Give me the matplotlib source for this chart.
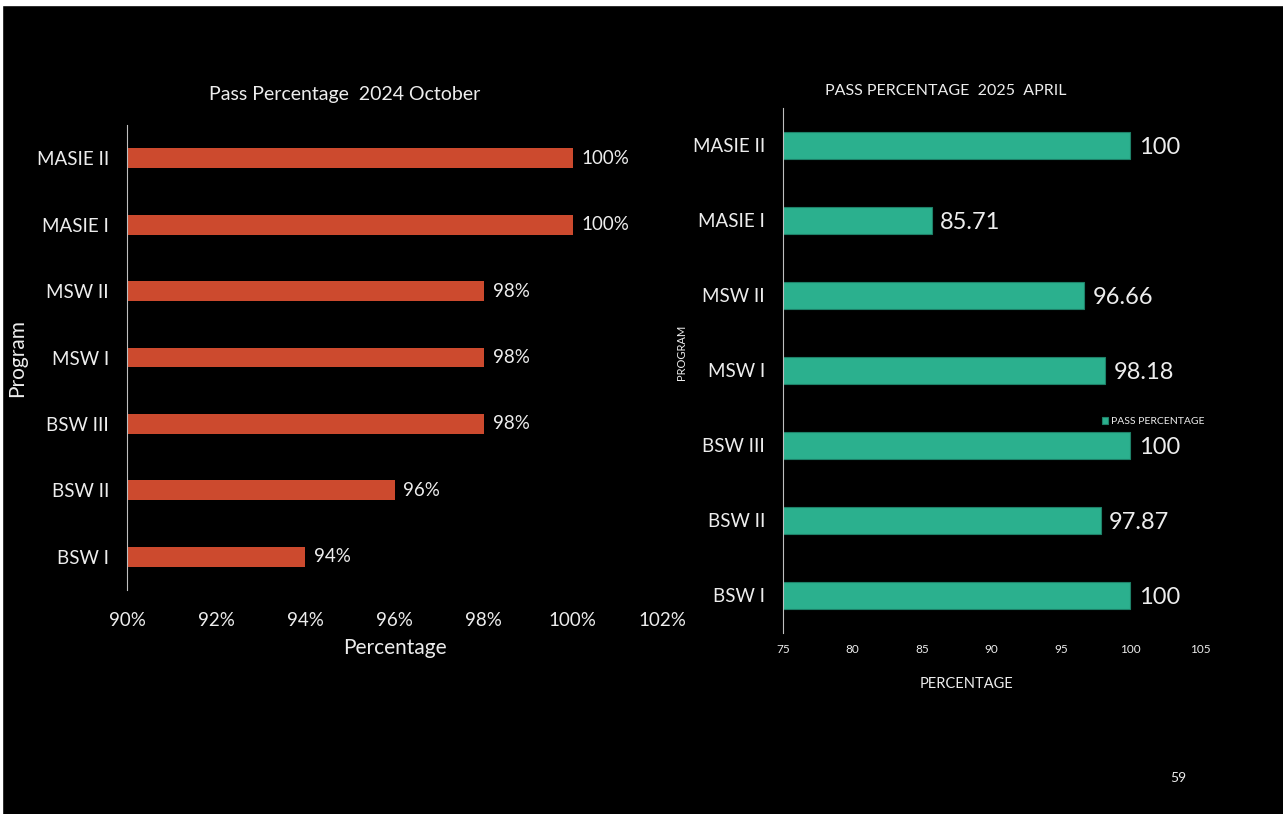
import numpy as np
import matplotlib.pyplot as plt
from matplotlib.patches import Rectangle
from matplotlib.ticker import FuncFormatter

plt.rcParams['font.family'] = ['Lato', 'DejaVu Sans']

# ---- data ----
programs = ['BSW I', 'BSW II', 'BSW III', 'MSW I', 'MSW II', 'MASIE I', 'MASIE II']
oct_2024 = [94, 96, 98, 98, 98, 100, 100]
apr_2025 = [100, 97.87, 100, 98.18, 96.66, 85.71, 100]
apr_labels = ['100', '97.87', '100', '98.18', '96.66', '85.71', '100']

red = '#CC4A2E'
green = '#2BB08E'
txt = '#EDEDED'

fig = plt.figure(figsize=(12.83, 8.14), dpi=100, facecolor='black')
# thin white margin top/left like the slide capture
fig.patches.append(Rectangle((0, 1 - 5 / 814), 1, 5 / 814, transform=fig.transFigure,
                             color='white', zorder=0))
fig.patches.append(Rectangle((0, 0), 2 / 1283, 1, transform=fig.transFigure,
                             color='white', zorder=0))

y = np.arange(len(programs))

# ---------- left chart ----------
ax1 = fig.add_axes([0.099, 0.2752, 0.417, 0.5712])
ax1.set_facecolor('black')
ax1.barh(y, oct_2024, height=0.3, color=red)
ax1.set_xlim(90, 102)
ax1.set_ylim(-0.5, 6.5)
ax1.set_xticks(np.arange(90, 103, 2))
ax1.xaxis.set_major_formatter(FuncFormatter(lambda v, p: '%d%%' % v))
ax1.set_yticks(y)
ax1.set_yticklabels(programs)
ax1.tick_params(length=0, colors=txt, labelsize=13.5)
ax1.tick_params(axis='x', pad=16)
ax1.tick_params(axis='y', pad=13)
for s in ['top', 'right', 'bottom']:
    ax1.spines[s].set_visible(False)
ax1.spines['left'].set_color('#BFBFBF')
for yi, v in zip(y, oct_2024):
    ax1.text(v + 0.2, yi, '%d%%' % v, color=txt, fontsize=13.5, va='center', ha='left')
ax1.set_xlabel('Percentage', color=txt, fontsize=15, labelpad=6)
ax1.set_ylabel('Program', color=txt, fontsize=15)
ax1.yaxis.set_label_coords(-0.187, 0.50)
ax1.set_title('Pass Percentage  2024 October', color=txt, fontsize=14, pad=18, x=0.407)

# ---------- right chart ----------
ax2 = fig.add_axes([0.6103, 0.2224, 0.325, 0.645])
ax2.set_facecolor('black')
ax2.barh(y, apr_2025, height=0.35, color=green, edgecolor='#1E8068', linewidth=0.8,
         label='PASS PERCENTAGE')
ax2.set_xlim(75, 105)
ax2.set_ylim(-0.5, 6.5)
ax2.set_xticks(np.arange(75, 106, 5))
ax2.set_yticks(y)
ax2.set_yticklabels(programs)
ax2.tick_params(length=0, colors=txt)
ax2.tick_params(axis='x', labelsize=8.5, pad=8)
ax2.tick_params(axis='y', labelsize=13.5, pad=13)
for s in ['top', 'right', 'bottom']:
    ax2.spines[s].set_visible(False)
ax2.spines['left'].set_color('#BFBFBF')
for yi, v, lab in zip(y, apr_2025, apr_labels):
    ax2.text(v + 0.6, yi - 0.03, lab, color=txt, fontsize=17, va='center', ha='left')
ax2.set_xlabel('PERCENTAGE', color=txt, fontsize=10.5)
ax2.xaxis.set_label_coords(0.441, -0.083)
ax2.set_ylabel('PROGRAM', color=txt, fontsize=8)
ax2.yaxis.set_label_coords(-0.230, 0.535)
ax2.set_title('PASS PERCENTAGE  2025  APRIL', color=txt, fontsize=11.5, pad=9, x=0.391)
leg = ax2.legend(loc='center left', bbox_to_anchor=(0.765, 0.402), frameon=False,
                 fontsize=7.5, handlelength=0.6, handleheight=0.6, handletextpad=0.3,
                 borderpad=0, borderaxespad=0)
for t in leg.get_texts():
    t.set_color(txt)

fig.text(1178 / 1283, 1 - 778 / 814, '59', color=txt, fontsize=10, ha='center', va='center')

fig.savefig('out.png', dpi=100, facecolor='black')
